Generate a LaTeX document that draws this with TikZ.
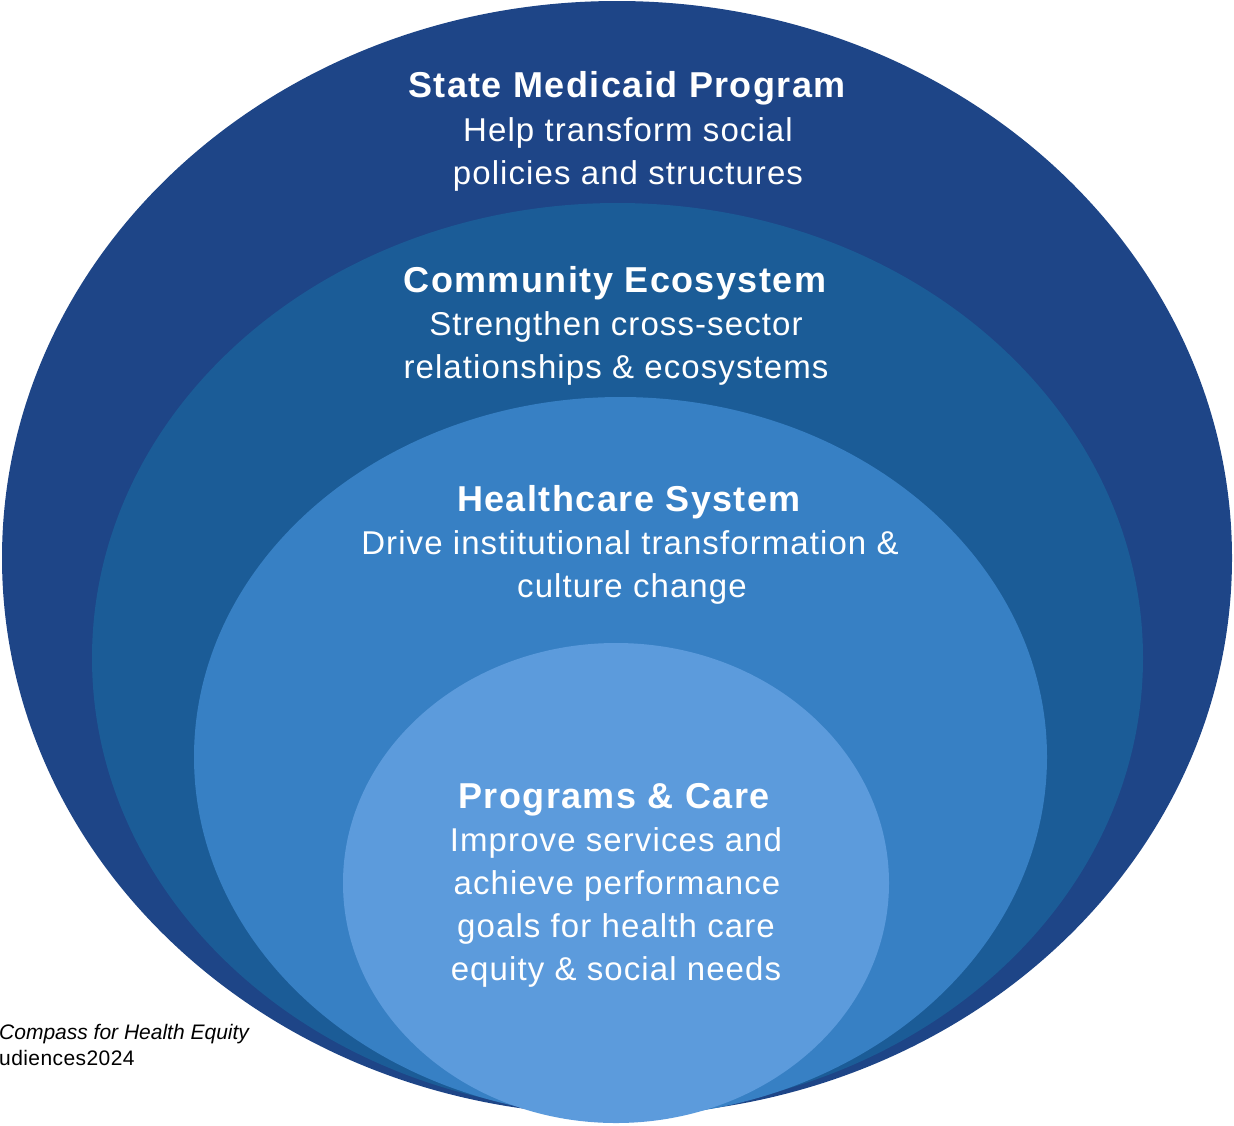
\documentclass[tikz,border=0pt]{standalone}
\usepackage{fontspec}
\setmainfont{Liberation Sans}

\definecolor{ringA}{HTML}{1E4587}
\definecolor{ringB}{HTML}{1B5C97}
\definecolor{ringC}{HTML}{3780C4}
\definecolor{ringD}{HTML}{5C9BDC}

\tikzset{
  ringtitle/.style={anchor=base,inner sep=0pt,text=white,
    font=\fontsize{36}{43}\selectfont\bfseries\addfontfeatures{LetterSpace=4}},
  ringtext/.style={anchor=base,inner sep=0pt,text=white,
    font=\fontsize{33}{43}\selectfont\addfontfeatures{LetterSpace=3.3}},
  source/.style={anchor=base west,inner sep=0pt,text=black,
    font=\fontsize{21}{26}\selectfont\addfontfeatures{LetterSpace=2}}
}

\begin{document}
\begin{tikzpicture}[x=1pt,y=-1pt]
    \useasboundingbox (0,0) rectangle (1234,1125);

    % rings, outer to inner
    \fill[ringA] (617,558) ellipse [x radius=615pt,y radius=557pt];
    \fill[ringB] (617.5,658) ellipse [x radius=525.5pt,y radius=455pt];
    \fill[ringC] (620.5,757) ellipse [x radius=426.5pt,y radius=360pt];
    \fill[ringD] (616,883) ellipse [x radius=273pt,y radius=240pt];

    \node[ringtitle] (medicaid) at (627,97) {State Medicaid Program};
    \node[ringtext] (medicaid_a) at (628,141) {Help transform social};
    \node[ringtext] (medicaid_b) at (628,184) {policies and structures};

    \node[ringtitle] (community) at (615,292) {Community Ecosystem};
    \node[ringtext] (community_a) at (616,335) {Strengthen cross-sector};
    \node[ringtext] (community_b) at (616,378) {relationships \& ecosystems};

    \node[ringtitle] (healthcare) at (629,511) {Healthcare System};
    \node[ringtext] (healthcare_a) at (630,554) {Drive institutional transformation \&};
    \node[ringtext] (healthcare_b) at (632,597) {culture change};

    \node[ringtitle] (programs) at (614,808) {Programs \& Care};
    \node[ringtext] (programs_a) at (616,851) {Improve services and};
    \node[ringtext] (programs_b) at (617,894) {achieve performance};
    \node[ringtext] (programs_c) at (616,937) {goals for health care};
    \node[ringtext] (programs_d) at (616,980) {equity \& social needs};

    \node[source,font=\fontsize{21}{26}\selectfont\itshape] (compass) at (-1,1039) {Compass for Health Equity};
    \node[source] (audiences) at (-1,1065) {udiences2024};
\end{tikzpicture}
\end{document}
